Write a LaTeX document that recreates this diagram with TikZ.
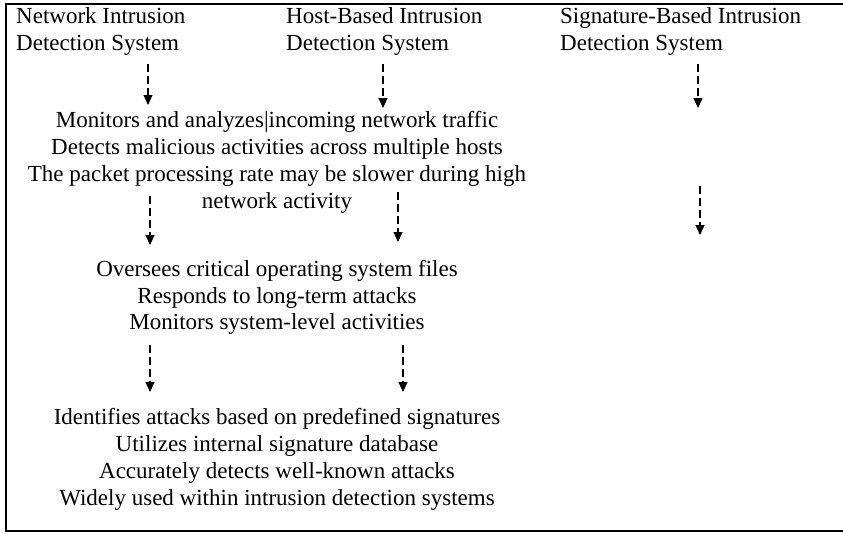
\documentclass[tikz,border=0pt]{standalone}
\usepackage{fontspec}
\setmainfont{Liberation Serif}
\usetikzlibrary{arrows.meta}

\begin{document}
\begin{tikzpicture}[x=1pt,y=-1pt,
  txt/.style={inner sep=0pt,font=\fontsize{23}{27}\selectfont},
  hd/.style={txt,anchor=base west},
  ln/.style={txt,anchor=base},
  flow/.style={line width=1.2pt,dash pattern=on 8pt off 4pt,
    -{Triangle[width=9pt,length=10pt]}}]
  \useasboundingbox (0,0) rectangle (843,533);

  % frame (right side runs off the page)
  \draw[line width=2pt] (845,4) -- (6,4) -- (6,531) -- (845,531);

  % column headings
  \node[hd] (h1a) at (16,23) {Network Intrusion};
  \node[hd] (h1b) at (16,50) {Detection System};
  \node[hd] (h2a) at (286,23) {Host-Based Intrusion};
  \node[hd] (h2b) at (286,50) {Detection System};
  \node[hd] (h3a) at (560,23) {Signature-Based Intrusion};
  \node[hd] (h3b) at (560,50) {Detection System};

  % network-based properties
  \node[ln] (b1a) at (277,127) {Monitors and analyzes|incoming network traffic};
  \node[ln] (b1b) at (277,154) {Detects malicious activities across multiple hosts};
  \node[ln] (b1c) at (277,181) {The packet processing rate may be slower during high};
  \node[ln] (b1d) at (277,208) {network activity};

  % host-based properties
  \node[ln] (b2a) at (277,276) {Oversees critical operating system files};
  \node[ln] (b2b) at (277,303) {Responds to long-term attacks};
  \node[ln] (b2c) at (277,329) {Monitors system-level activities};

  % signature-based properties
  \node[ln] (b3a) at (277,424) {Identifies attacks based on predefined signatures};
  \node[ln] (b3b) at (277,451) {Utilizes internal signature database};
  \node[ln] (b3c) at (277,478) {Accurately detects well-known attacks};
  \node[ln] (b3d) at (277,505) {Widely used within intrusion detection systems};

  % arrow end points
  \coordinate (a1s) at (148,64);  \coordinate (a1e) at (148,105);
  \coordinate (a2s) at (383,64);  \coordinate (a2e) at (383,108);
  \coordinate (a3s) at (698,64);  \coordinate (a3e) at (698,108);
  \coordinate (a4s) at (150,196); \coordinate (a4e) at (150,245);
  \coordinate (a5s) at (398,192); \coordinate (a5e) at (398,242);
  \coordinate (a6s) at (700,186); \coordinate (a6e) at (700,235);
  \coordinate (a7s) at (150,345); \coordinate (a7e) at (150,392);
  \coordinate (a8s) at (403,345); \coordinate (a8e) at (403,392);

  \foreach \k in {1,...,8} \draw[flow] (a\k s) -- (a\k e);
\end{tikzpicture}
\end{document}
